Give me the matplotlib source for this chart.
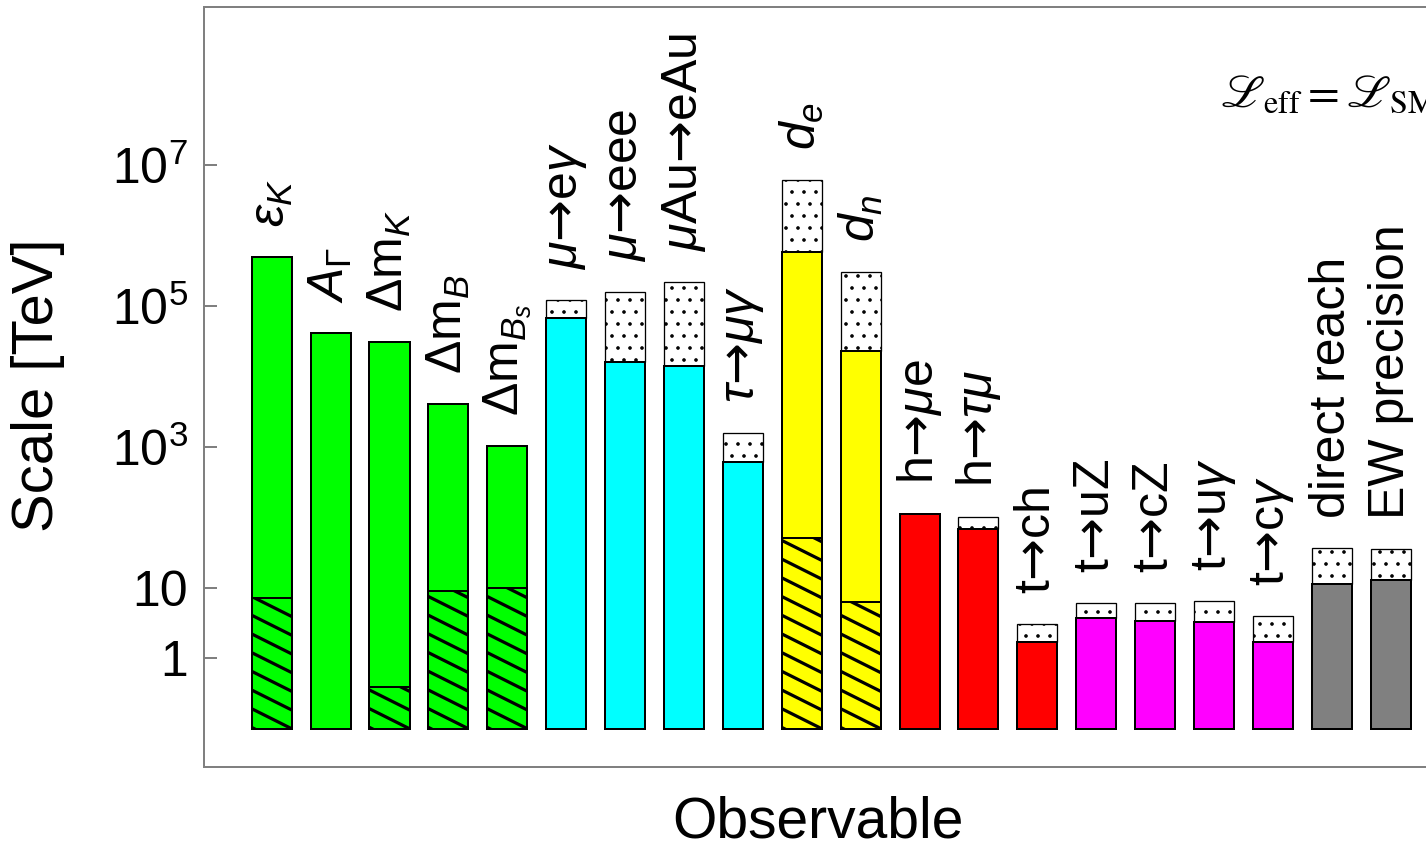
import numpy as np
import matplotlib.pyplot as plt
from matplotlib.collections import LineCollection
from matplotlib.transforms import IdentityTransform

plt.rcParams['font.family'] = ['Liberation Sans', 'DejaVu Sans']
plt.rcParams['mathtext.fontset'] = 'custom'
plt.rcParams['mathtext.rm'] = 'Liberation Sans'
plt.rcParams['mathtext.it'] = 'Liberation Sans:italic'
plt.rcParams['mathtext.bf'] = 'Liberation Sans:bold'
plt.rcParams['mathtext.sf'] = 'DejaVu Sans'
plt.rcParams['hatch.linewidth'] = 1.2

A = r'$\mathsf{→}$'  # full-size arrow

# observables
labels = [r'$\epsilon_K$', r'$A_\Gamma$', r'Δm$_K$', r'Δm$_B$', r'Δm$_{B_s}$',
          r'$\mu$' + A + r'e$\gamma$', r'$\mu$' + A + 'eee', r'$\mu$Au' + A + 'eAu',
          r'$\tau$' + A + r'$\mu\gamma$',
          r'$d_e$', r'$d_n$', 'h' + A + r'$\mu$e', 'h' + A + r'$\tau\mu$',
          't' + A + 'ch', 't' + A + 'uZ', 't' + A + 'cZ', 't' + A + r'u$\gamma$',
          't' + A + r'c$\gamma$',
          'direct reach', 'EW precision']
colors = ['#00ff00'] * 5 + ['#00ffff'] * 4 + ['#ffff00'] * 2 + ['#ff0000'] * 3 \
    + ['#ff00ff'] * 4 + ['#808080'] * 2

# scale reached today [TeV]
scale = [5.07e5, 4.13e4, 3.08e4, 4.06e3, 1.04e3,
         6.9e4, 1.63e4, 1.42e4, 608,
         5.97e5, 2.34e4, 112, 68,
         1.69, 3.73, 3.42, 3.31, 1.72,
         11.4, 12.9]
# future reach (dotted part), nan = none
future = [np.nan, np.nan, np.nan, np.nan, np.nan,
          1.23e5, 1.61e5, 2.24e5, 1.6e3,
          6.2e6, 3.1e5, np.nan, 101,
          3.04, 6.04, 6.04, 6.5, 4.03,
          36.5, 35.3]
# hatched part, nan = none
hatched = [7.1, np.nan, 0.395, 9.0, 10.0,
           np.nan, np.nan, np.nan, np.nan,
           50.7, 6.4, np.nan, np.nan,
           np.nan, np.nan, np.nan, np.nan, np.nan,
           np.nan, np.nan]

W, H = 1426, 849
fig = plt.figure(figsize=(W / 72, H / 72), dpi=72)
ax = fig.add_axes([204 / W, (H - 767.3) / H, (1432 - 204) / W, (767.3 - 7) / H])
ax.set_yscale('log')
ax.set_ylim(10 ** -1.548, 10 ** 9.251)
ax.set_xlim(-1.149, 19.70)

base = 0.1
bw = 0.68
x = np.arange(len(labels))

for i in x:
    ax.bar(i, scale[i] - base, bottom=base, width=bw, color=colors[i],
           edgecolor='black', linewidth=2, zorder=3)
    top = scale[i]
    if not np.isnan(future[i]):
        ax.bar(i, future[i] - scale[i], bottom=scale[i], width=bw, color='white',
               edgecolor='black', linewidth=1.3, hatch='.', zorder=2)
        top = future[i]
    if not np.isnan(hatched[i]):
        r = ax.bar(i, hatched[i] - base, bottom=base, width=bw, color=colors[i],
                   edgecolor='black', linewidth=2, zorder=4)[0]
        (x0, y0), (x1, y1) = ax.transData.transform([(i - bw / 2, base),
                                                      (i + bw / 2, hatched[i])])
        sp = 18.7
        segs = []
        for k in range(-3, int((y1 - y0) / sp) + 3):
            ya = y0 + k * sp
            segs.append([(x1 + 5, ya - 2.5), (x0 - 5, ya + 0.5 * (x1 - x0 + 5))])
        lc = LineCollection(segs, colors='black', linewidths=3.2,
                            transform=IdentityTransform(), zorder=4.5)
        ax.add_collection(lc)
        lc.set_clip_path(r)
    ax.annotate(labels[i], xy=(i, top), xytext=(0, 30), textcoords='offset points',
                rotation=90, ha='center', va='bottom', fontsize=50)

ax.set_xticks([])
ax.yaxis.set_minor_locator(plt.NullLocator())
ax.set_yticks([1, 10, 1e3, 1e5, 1e7])
ax.set_yticklabels(['1', '10', r'$10^3$', r'$10^5$', r'$10^7$'])
ax.tick_params(axis='y', direction='in', length=13, width=2, color='#808080',
               labelsize=50, pad=16)
for s in ax.spines.values():
    s.set_color('#808080')
    s.set_linewidth(2)

fig.text(38 / W, (H - 385) / H, 'Scale [TeV]', rotation=90, ha='center',
         va='center', fontsize=58)
fig.text(818 / W, (H - 837) / H, 'Observable', ha='center', va='baseline',
         fontsize=57)
fig.text(1220 / W, (H - 107) / H,
         r'$\mathscr{L}_{\rm eff}=\mathscr{L}_{\rm SM}$',
         ha='left', va='baseline', fontsize=46, math_fontfamily='stix')

fig.savefig('out.png', dpi=72)
